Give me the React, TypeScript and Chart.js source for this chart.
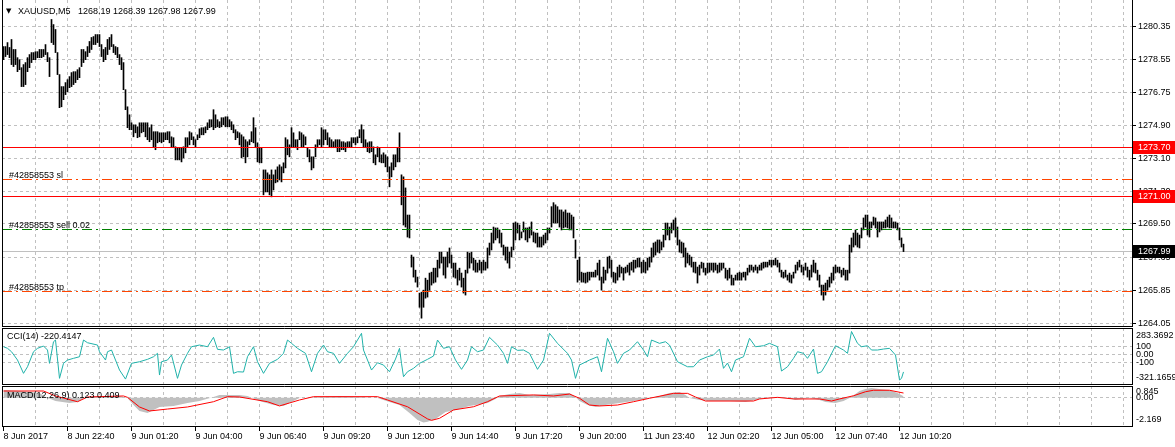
import React, { useEffect, useRef } from 'react';
import { Chart, registerables } from 'chart.js';

Chart.register(...registerables);

const FONT = "'Liberation Sans', 'DejaVu Sans', Arial, sans-serif";
const GRID = '#c0c0c0';
const CLEAR = 'rgba(0,0,0,0)';

// ---------- data ----------
const symbolTitle = 'XAUUSD,M5';
const lastOpen = 1268.19;
const lastClose = 1267.99;
const orderTicket = '42858553';
const orderLots = 0.02;

const timeLabels = [
  '8 Jun 2017', '8 Jun 22:40', '9 Jun 01:20', '9 Jun 04:00', '9 Jun 06:40',
  '9 Jun 09:20', '9 Jun 12:00', '9 Jun 14:40', '9 Jun 17:20', '9 Jun 20:00',
  '11 Jun 23:40', '12 Jun 02:20', '12 Jun 05:00', '12 Jun 07:40', '12 Jun 10:20',
];

const priceTicks = [1264.05, 1265.85, 1267.65, 1269.5, 1271.3, 1273.1, 1274.9, 1276.75, 1278.55, 1280.35];

const barHigh = [
  1279.25, 1279.25, 1279.47, 1279.20, 1279.64, 1279.09, 1279.09, 1278.64, 1278.53, 1278.09,
  1278.26, 1278.37, 1278.64, 1278.81, 1278.92, 1278.92, 1278.97, 1278.97, 1279.09, 1279.09,
  1279.09, 1279.36, 1278.92, 1278.64, 1280.74, 1280.46, 1280.19, 1278.92, 1277.71, 1277.05,
  1277.05, 1277.27, 1277.43, 1277.60, 1277.82, 1277.87, 1277.87, 1277.98, 1278.09, 1279.09,
  1279.09, 1278.97, 1279.25, 1279.53, 1279.75, 1279.80, 1279.91, 1279.91, 1279.91, 1279.36,
  1279.09, 1279.20, 1279.64, 1279.75, 1279.91, 1279.36, 1279.25, 1279.20, 1278.81, 1278.64,
  1278.37, 1276.88, 1275.94, 1275.50, 1275.06, 1274.95, 1274.95, 1274.84, 1275.06, 1275.06,
  1275.06, 1275.06, 1275.06, 1274.79, 1274.95, 1274.57, 1274.57, 1274.57, 1274.51, 1274.51,
  1274.51, 1274.51, 1274.57, 1274.57, 1274.29, 1274.24, 1273.74, 1273.69, 1273.69, 1273.69,
  1273.74, 1274.24, 1274.24, 1274.57, 1274.51, 1274.29, 1274.13, 1274.40, 1274.73, 1274.79,
  1274.79, 1274.84, 1275.06, 1275.23, 1275.23, 1275.78, 1275.50, 1275.23, 1275.12, 1275.34,
  1275.34, 1275.39, 1275.39, 1275.23, 1275.12, 1274.95, 1274.68, 1274.57, 1274.51, 1274.40,
  1274.29, 1274.13, 1274.02, 1274.13, 1274.57, 1275.34, 1274.79, 1273.96, 1273.69, 1273.69,
  1272.47, 1272.47, 1272.31, 1272.20, 1272.47, 1272.20, 1272.47, 1272.64, 1272.75, 1272.64,
  1272.86, 1274.24, 1274.13, 1273.85, 1274.79, 1274.51, 1274.13, 1274.13, 1274.57, 1274.51,
  1274.40, 1274.29, 1273.69, 1273.58, 1273.19, 1273.19, 1273.85, 1274.13, 1274.13, 1274.79,
  1274.68, 1274.68, 1274.51, 1274.24, 1274.13, 1274.02, 1274.13, 1274.13, 1274.13, 1274.02,
  1274.02, 1273.96, 1274.02, 1274.02, 1274.24, 1274.24, 1274.24, 1274.29, 1274.68, 1274.95,
  1274.68, 1274.13, 1273.96, 1274.02, 1274.02, 1273.74, 1273.30, 1273.74, 1273.69, 1273.30,
  1273.41, 1273.30, 1273.19, 1272.64, 1272.86, 1273.30, 1273.30, 1273.69, 1274.51, 1272.20,
  1272.09, 1271.48, 1269.99, 1269.99, 1267.79, 1267.68, 1266.96, 1266.58, 1265.70, 1265.75,
  1265.86, 1266.52, 1266.41, 1266.80, 1266.85, 1267.07, 1267.07, 1267.51, 1267.95, 1267.95,
  1267.68, 1267.68, 1267.95, 1268.18, 1267.79, 1267.35, 1267.35, 1266.96, 1267.07, 1266.80,
  1266.52, 1266.96, 1267.95, 1267.90, 1267.95, 1267.62, 1267.51, 1267.35, 1267.51, 1267.40,
  1267.51, 1267.40, 1268.18, 1268.45, 1269.00, 1269.33, 1269.28, 1269.28, 1269.17, 1269.00,
  1268.34, 1268.23, 1268.23, 1267.95, 1268.23, 1269.55, 1269.61, 1269.55, 1269.44, 1269.06,
  1269.61, 1269.28, 1269.28, 1269.33, 1269.61, 1269.06, 1269.00, 1269.00, 1268.78, 1268.78,
  1268.89, 1269.00, 1269.28, 1269.28, 1270.45, 1270.67, 1270.55, 1270.45, 1270.27, 1270.27,
  1270.16, 1270.27, 1270.10, 1270.10, 1269.99, 1269.88, 1268.62, 1267.51, 1267.68, 1266.85,
  1266.80, 1266.80, 1266.85, 1266.85, 1266.85, 1266.85, 1266.96, 1267.35, 1267.51, 1266.58,
  1267.13, 1266.96, 1267.68, 1267.73, 1267.51, 1266.85, 1266.80, 1267.13, 1267.24, 1267.13,
  1267.07, 1267.13, 1267.24, 1267.35, 1267.40, 1267.51, 1267.51, 1267.62, 1267.62, 1267.40,
  1267.51, 1267.40, 1267.62, 1267.68, 1268.18, 1268.45, 1268.51, 1268.62, 1268.62, 1268.51,
  1268.89, 1269.55, 1269.55, 1269.33, 1269.55, 1269.72, 1269.83, 1269.33, 1268.62, 1268.51,
  1268.45, 1268.18, 1267.90, 1267.79, 1267.68, 1267.40, 1267.40, 1267.13, 1267.24, 1267.40,
  1267.35, 1267.07, 1267.35, 1267.35, 1267.35, 1267.35, 1267.35, 1267.24, 1267.35, 1267.35,
  1267.35, 1267.07, 1266.96, 1267.07, 1266.69, 1266.52, 1266.69, 1266.80, 1266.85, 1266.80,
  1266.85, 1266.85, 1267.07, 1267.24, 1267.24, 1267.13, 1267.24, 1267.13, 1267.24, 1267.35,
  1267.40, 1267.40, 1267.40, 1267.51, 1267.51, 1267.51, 1267.62, 1267.51, 1267.35, 1266.96,
  1266.85, 1266.96, 1266.69, 1266.80, 1266.69, 1266.85, 1267.24, 1267.40, 1267.51, 1267.24,
  1267.13, 1267.35, 1267.13, 1266.96, 1267.24, 1267.51, 1267.35, 1266.96, 1266.69, 1266.14,
  1266.14, 1266.25, 1266.41, 1266.58, 1266.80, 1267.13, 1267.24, 1267.13, 1267.13, 1266.96,
  1267.07, 1266.96, 1266.96, 1268.34, 1268.73, 1269.00, 1269.17, 1269.00, 1268.89, 1269.28,
  1269.83, 1269.99, 1269.99, 1269.61, 1269.61, 1269.88, 1269.83, 1269.61, 1269.61, 1269.61,
  1269.61, 1269.72, 1269.88, 1269.99, 1269.83, 1269.61, 1269.61, 1269.55, 1269.28, 1268.73,
  1268.39,
];

const barLow = [
  1278.53, 1278.70, 1278.81, 1278.64, 1278.26, 1278.15, 1278.26, 1277.87, 1277.98, 1277.05,
  1277.05, 1277.16, 1277.87, 1278.09, 1278.37, 1278.53, 1278.53, 1278.64, 1278.64, 1278.64,
  1278.70, 1278.81, 1278.42, 1277.60, 1279.47, 1279.36, 1278.92, 1277.71, 1275.89, 1275.94,
  1276.33, 1276.61, 1276.77, 1276.99, 1277.05, 1277.16, 1277.27, 1277.43, 1277.54, 1278.15,
  1278.37, 1278.53, 1278.70, 1278.92, 1279.09, 1279.36, 1279.36, 1279.47, 1279.25, 1278.70,
  1278.42, 1278.53, 1278.81, 1279.09, 1279.25, 1278.92, 1278.81, 1278.64, 1278.26, 1277.98,
  1276.88, 1275.78, 1274.79, 1274.68, 1274.68, 1274.29, 1274.51, 1274.24, 1274.29, 1274.51,
  1274.57, 1274.29, 1274.13, 1274.02, 1274.13, 1273.74, 1273.58, 1273.96, 1274.02, 1273.96,
  1274.02, 1274.13, 1274.13, 1273.96, 1273.74, 1273.69, 1273.02, 1273.02, 1273.02, 1272.91,
  1273.13, 1273.41, 1273.74, 1273.85, 1274.13, 1273.85, 1273.74, 1274.13, 1274.24, 1274.40,
  1274.40, 1274.51, 1274.68, 1274.79, 1274.84, 1274.68, 1274.79, 1274.84, 1274.79, 1274.84,
  1274.95, 1274.84, 1274.84, 1274.84, 1274.68, 1274.51, 1274.13, 1274.24, 1273.85, 1273.13,
  1273.19, 1272.86, 1273.19, 1273.85, 1274.02, 1273.96, 1273.69, 1272.91, 1272.86, 1272.86,
  1271.10, 1271.26, 1271.26, 1271.10, 1270.99, 1271.37, 1271.76, 1271.81, 1271.92, 1271.81,
  1272.31, 1272.58, 1273.30, 1273.19, 1273.69, 1273.74, 1273.69, 1273.58, 1274.13, 1273.74,
  1273.74, 1273.85, 1273.19, 1272.91, 1272.47, 1272.58, 1273.19, 1273.69, 1273.85, 1273.74,
  1273.85, 1274.13, 1273.85, 1273.74, 1273.69, 1273.69, 1273.69, 1273.47, 1273.47, 1273.58,
  1273.58, 1273.47, 1273.69, 1273.74, 1273.74, 1273.96, 1273.85, 1273.96, 1274.24, 1273.96,
  1273.69, 1273.69, 1273.47, 1273.41, 1273.47, 1272.86, 1272.75, 1273.19, 1272.91, 1272.86,
  1272.86, 1272.64, 1272.36, 1271.54, 1272.09, 1272.47, 1272.64, 1272.91, 1272.91, 1270.55,
  1269.44, 1269.33, 1268.78, 1268.73, 1267.13, 1266.58, 1266.30, 1266.03, 1264.92, 1264.32,
  1264.92, 1265.42, 1265.48, 1265.86, 1266.14, 1266.25, 1266.30, 1266.58, 1267.07, 1267.35,
  1266.69, 1266.52, 1267.13, 1267.35, 1267.07, 1266.58, 1266.52, 1266.14, 1266.41, 1266.03,
  1265.70, 1265.59, 1266.80, 1267.07, 1267.35, 1266.96, 1266.85, 1266.85, 1266.96, 1266.80,
  1266.96, 1266.96, 1267.07, 1267.79, 1268.07, 1268.45, 1268.62, 1268.73, 1268.45, 1268.23,
  1267.79, 1267.51, 1267.35, 1267.07, 1267.68, 1268.07, 1268.62, 1269.00, 1268.62, 1268.73,
  1269.06, 1268.62, 1268.51, 1268.73, 1268.89, 1268.51, 1268.45, 1268.23, 1268.23, 1268.23,
  1268.34, 1268.45, 1268.62, 1269.00, 1269.33, 1269.55, 1269.55, 1269.55, 1269.33, 1269.17,
  1269.28, 1269.33, 1269.28, 1269.17, 1269.17, 1268.73, 1267.62, 1266.30, 1266.41, 1266.30,
  1266.30, 1266.25, 1266.30, 1266.41, 1266.58, 1266.58, 1266.58, 1266.69, 1266.41, 1265.86,
  1266.25, 1266.41, 1266.80, 1267.07, 1266.58, 1266.30, 1266.25, 1266.41, 1266.58, 1266.80,
  1266.41, 1266.80, 1266.85, 1266.69, 1266.96, 1266.85, 1267.07, 1267.13, 1267.13, 1266.80,
  1266.85, 1266.80, 1266.96, 1267.13, 1267.40, 1267.68, 1267.79, 1267.95, 1267.90, 1268.07,
  1268.23, 1268.62, 1268.89, 1268.62, 1269.00, 1269.17, 1268.78, 1268.34, 1267.95, 1267.90,
  1267.68, 1267.13, 1267.35, 1267.24, 1267.13, 1266.85, 1266.80, 1266.25, 1266.69, 1267.07,
  1266.85, 1266.69, 1266.80, 1266.85, 1266.96, 1266.85, 1266.96, 1266.80, 1266.85, 1266.96,
  1267.07, 1266.52, 1266.41, 1266.52, 1266.14, 1266.14, 1266.41, 1266.41, 1266.41, 1266.41,
  1266.58, 1266.41, 1266.69, 1266.85, 1266.96, 1266.85, 1266.96, 1266.80, 1266.96, 1266.96,
  1267.07, 1267.13, 1267.13, 1267.24, 1267.13, 1267.24, 1267.24, 1267.13, 1266.85, 1266.58,
  1266.52, 1266.58, 1266.41, 1266.30, 1266.25, 1266.52, 1266.80, 1266.96, 1267.13, 1266.85,
  1266.69, 1266.96, 1266.58, 1266.41, 1266.58, 1266.85, 1266.80, 1266.41, 1266.03, 1265.59,
  1265.31, 1265.59, 1265.86, 1266.03, 1266.25, 1266.41, 1266.80, 1266.85, 1266.80, 1266.58,
  1266.69, 1266.41, 1266.41, 1266.80, 1267.95, 1268.23, 1268.34, 1268.23, 1268.18, 1268.73,
  1269.17, 1269.33, 1268.89, 1268.78, 1269.28, 1269.44, 1269.28, 1268.78, 1269.06, 1269.17,
  1269.28, 1269.28, 1269.33, 1269.28, 1269.28, 1269.28, 1269.28, 1269.17, 1268.62, 1268.23,
  1267.98,
];

const alertLevels = [1273.7, 1271.0];
const slPrice = 1271.95;
const sellPrice = 1269.21;
const tpPrice = 1265.81;
const bidPrice = 1267.99;

const cciBars = [
  0, 2, 4, 7, 10, 12, 15, 17, 20, 22, 23, 25, 26, 28, 30, 32, 35, 38, 40, 42,
  47, 48, 51, 52, 54, 56, 58, 61, 64, 68, 72, 75, 77, 78, 79, 82, 84, 87, 89, 92,
  94, 98, 102, 105, 107, 110, 113, 115, 117, 120, 122, 125, 127, 130, 133, 137, 140, 142, 144, 147,
  151, 154, 157, 160, 162, 165, 168, 172, 175, 177, 179, 180, 182, 184, 187, 190, 193, 196, 198, 199,
  200, 202, 205, 208, 212, 215, 217, 220, 223, 226, 229, 232, 234, 237, 240, 243, 247, 250, 252, 254,
  257, 260, 263, 267, 270, 273, 277, 282, 284, 286, 288, 293, 297, 299, 302, 305, 307, 310, 313, 317,
  320, 322, 324, 328, 331, 333, 337, 342, 345, 348, 352, 355, 358, 360, 362, 364, 366, 370, 373, 376,
  380, 383, 387, 389, 392, 395, 397, 400, 402, 405, 407, 409, 412, 416, 420, 422, 424, 427, 429, 432,
  434, 437, 440, 443, 446, 448, 449, 450,
];
const cciValues = [
  93.5, 73.6, 31.2, -72.3, -238.2, -155.9, 31.2, 73.6, 102.3, 52.4, -113.5, 155.9, 177.1, -300.5, -113.5, -72.3, -51.1, -31.2, 177.1, 143.4,
  114.7, 31.2, -72.3, 31.2, 52.4, -72.3, -197.0, -310.0, -113.5, -93.5, -63.6, -31.2, 11.2, -259.4, -93.5, -72.3, -10.0, -300.5, -134.7, 11.2,
  93.5, 114.7, 93.5, 210.7, 61.1, 52.4, 93.5, -238.2, -218.2, -222.0, -31.2, 93.5, -93.5, -238.2, -113.5, -63.6, 11.2, 177.1, 135.9, 73.6,
  11.2, -218.2, 11.2, 114.7, 31.2, 11.2, -113.5, 11.2, 93.5, 177.1, 260.6, 52.4, -72.3, -197.0, -106.0, -134.7, -218.2, -60.0, 73.6, -113.5,
  -280.6, -218.2, -175.8, -113.5, -63.6, -22.4, 177.1, 73.6, 93.5, -72.3, -188.3, -72.3, 93.5, 31.2, 52.4, 210.7, 114.7, 11.2, -113.5, 93.5,
  48.6, 52.4, 11.2, -188.3, -72.3, 260.6, 135.9, 11.2, -72.3, -300.5, -134.7, -72.3, -31.2, -218.2, 198.3, 31.2, -113.5, 11.2, 52.4, 155.9,
  52.4, -31.2, 177.1, 135.9, 155.9, 114.7, -93.5, -155.9, -155.9, -72.3, -31.2, -10.0, 64.8, -175.8, -109.7, -218.2, -72.3, -31.2, 198.3, 93.5,
  106.0, 135.9, 93.5, -209.5, -155.9, -51.1, 31.2, 11.2, -51.1, 64.8, -238.2, -218.2, -93.5, 106.0, 52.4, 11.2, 283.3692, 135.9, 93.5, 106.0,
  52.4, 52.4, 64.8, 73.6, -10.0, -321.1659, -300.5, -220.4147,
];

const macdBars = [
  0, 8, 18, 21, 26, 33, 37, 41, 48, 58, 62, 65, 68, 72, 75, 78, 85, 92, 98, 105,
  108, 118, 122, 128, 135, 140, 145, 148, 158, 168, 178, 187, 193, 198, 203, 207, 210, 212, 216, 221,
  226, 233, 242, 246, 248, 253, 258, 263, 273, 278, 283, 286, 288, 292, 296, 301, 308, 315, 321, 328,
  333, 338, 341, 343, 348, 353, 363, 371, 376, 383, 391, 396, 403, 408, 411, 416, 420, 423, 426, 428,
  431, 434, 438, 443, 447, 450,
];
const macdValues = [
  0.67, 0.59, 0.41, 0.06, -0.29, -0.46, -0.38, 0.06, 0.15, 0.15, -0.03, -0.64, -1.16, -1.34, -1.07, -0.81, -0.72, -0.46, -0.29, 0.06,
  0.24, 0.24, 0.15, -0.29, -0.64, -0.72, -0.29, -0.03, 0.06, 0.15, 0.06, -0.03, -0.38, -0.64, -1.34, -1.95, -2.169, -2.10, -1.86, -1.25,
  -1.07, -0.72, -0.46, -0.11, 0.15, 0.32, 0.41, 0.24, 0.32, 0.41, 0.41, 0.06, -0.29, -0.64, -0.81, -0.64, -0.46, -0.29, -0.11, 0.15,
  0.41, 0.50, 0.24, -0.03, -0.20, -0.29, -0.29, -0.38, -0.20, 0.06, 0.06, -0.20, -0.03, -0.20, -0.38, -0.46, -0.29, -0.03, 0.32, 0.59,
  0.76, 0.845, 0.76, 0.67, 0.41, 0.123,
];

const signalBars = [
  0, 20, 26, 30, 37, 42, 60, 62, 68, 73, 82, 92, 105, 112, 118, 132, 138, 143, 148, 155,
  187, 192, 202, 212, 214, 218, 225, 235, 242, 248, 265, 275, 283, 288, 293, 298, 307, 315, 323, 335,
  342, 346, 351, 375, 378, 387, 395, 408, 414, 418, 425, 431, 435, 443, 450,
];
const signalValues = [
  0.585, 0.585, 0.15, -0.03, -0.35, 0.06, 0.15, 0.03, -0.81, -1.16, -0.99, -0.81, -0.35, 0.09, 0.06, -0.35, -0.72, -0.46, -0.20, 0.09,
  0.09, -0.20, -0.79, -1.85, -1.98, -1.80, -1.07, -0.79, -0.35, 0.15, 0.24, 0.15, 0.32, -0.05, -0.64, -0.72, -0.64, -0.35, -0.05, 0.38,
  0.38, 0.06, -0.29, -0.29, -0.11, 0.03, -0.11, -0.11, -0.29, -0.11, 0.17, 0.52, 0.65, 0.65, 0.409,
];

// ---------- helpers ----------
const X_MIN = -0.75;
const X_MAX = 564.25;
const font9 = { family: FONT, size: 9 };

function xAxis(withLabels: boolean, height: number) {
  return {
    type: 'linear',
    position: 'bottom',
    min: X_MIN,
    max: X_MAX,
    offset: false,
    afterBuildTicks: (s: any) => {
      const t: any[] = [];
      for (let v = withLabels ? 0 : 16; v <= 560; v += 16) t.push({ value: v });
      s.ticks = t;
    },
    afterFit: (s: any) => {
      s.height = height;
      s.paddingLeft = 0;
      s.paddingRight = 0;
    },
    grid: {
      offset: false,
      color: (c: any) => (c.tick && c.tick.value === 0 ? CLEAR : GRID),
      lineWidth: 1,
      drawTicks: withLabels,
      tickLength: 5,
      tickWidth: 1,
      tickColor: (c: any) =>
        c.tick && c.tick.value % 32 === 0 && c.tick.value / 32 < timeLabels.length ? '#000' : CLEAR,
    },
    border: { display: true, color: '#000', width: 1, dash: [3, 3] },
    ticks: {
      display: withLabels,
      autoSkip: false,
      maxRotation: 0,
      minRotation: 0,
      align: 'start',
      padding: 0,
      font: font9,
      color: '#000',
      callback: (v: any) => {
        const n = Number(v);
        if (n % 32 !== 0) return '';
        return timeLabels[n / 32] || '';
      },
    },
  };
}

function yAxisBase(min: number, max: number, ticks: number[], fmt: (v: number) => string, tickLen: number, tickColor: string, pad: number) {
  return {
    type: 'linear',
    position: 'right',
    min,
    max,
    afterBuildTicks: (s: any) => {
      s.ticks = ticks.map((v) => ({ value: v }));
    },
    afterFit: (s: any) => {
      s.width = 43;
      s.paddingTop = 0;
      s.paddingBottom = 0;
    },
    grid: { color: GRID, lineWidth: 1, drawTicks: true, tickLength: tickLen, tickColor, tickWidth: 1 },
    border: { display: true, color: '#000', width: 1, dash: [3, 3] },
    ticks: { autoSkip: false, font: font9, color: '#000', padding: pad, callback: (v: any) => fmt(Number(v)) },
  };
}

function baseOptions(scales: any) {
  return {
    animation: false,
    responsive: false,
    maintainAspectRatio: false,
    events: [],
    layout: { padding: { left: 2, right: 0, top: 0, bottom: 0 }, autoPadding: false },
    plugins: { legend: { display: false }, tooltip: { enabled: false }, title: { display: false } },
    scales,
  };
}

function hline(ctx: any, a: any, y: any, price: number, color: string, dash: number[]) {
  const py = Math.floor(y.getPixelForValue(price)) + 0.5;
  ctx.save();
  ctx.strokeStyle = color;
  ctx.lineWidth = 1;
  ctx.setLineDash(dash);
  ctx.beginPath();
  ctx.moveTo(a.left, py);
  ctx.lineTo(a.right, py);
  ctx.stroke();
  ctx.restore();
}

function frame(ctx: any, a: any, withTop: boolean) {
  ctx.save();
  ctx.strokeStyle = '#000';
  ctx.lineWidth = 1;
  ctx.setLineDash([]);
  ctx.beginPath();
  ctx.moveTo(a.left + 0.5, a.top);
  ctx.lineTo(a.left + 0.5, a.bottom + 1);
  if (withTop) {
    ctx.moveTo(a.left, a.top + 0.5);
    ctx.lineTo(a.right + 1, a.top + 0.5);
  }
  ctx.stroke();
  ctx.restore();
}

const DASH_DOT = [10, 4, 2, 4];

const mainOverlay = {
  id: 'mainOverlay',
  beforeDatasetsDraw(chart: any) {
    const { ctx, chartArea: a, scales } = chart;
    hline(ctx, a, scales.y, bidPrice, GRID, []);
  },
  afterDatasetsDraw(chart: any) {
    const { ctx, chartArea: a, scales } = chart;
    alertLevels.forEach((p) => hline(ctx, a, scales.y, p, '#ff0000', []));
    hline(ctx, a, scales.y, slPrice, '#ff4500', DASH_DOT);
    hline(ctx, a, scales.y, tpPrice, '#ff4500', DASH_DOT);
    hline(ctx, a, scales.y, sellPrice, '#008000', DASH_DOT);
  },
  afterDraw(chart: any) {
    const { ctx, chartArea: a, scales } = chart;
    const y = scales.y;
    frame(ctx, a, false);
    ctx.save();
    ctx.fillStyle = '#000';
    ctx.textAlign = 'left';
    ctx.textBaseline = 'alphabetic';
    ctx.font = `9px ${FONT}`;
    const last = barHigh.length - 1;
    ctx.fillText(
      `${symbolTitle}   ${lastOpen.toFixed(2)} ${barHigh[last].toFixed(2)} ${barLow[last].toFixed(2)} ${lastClose.toFixed(2)}`,
      18,
      14,
    );
    ctx.font = "7px 'DejaVu Sans', sans-serif";
    ctx.fillText('\u25BC', 6, 13);
    ctx.font = `9px ${FONT}`;
    const orderText: [number, string][] = [
      [slPrice, `#${orderTicket} sl`],
      [sellPrice, `#${orderTicket} sell ${orderLots.toFixed(2)}`],
      [tpPrice, `#${orderTicket} tp`],
    ];
    orderText.forEach(([p, t]) => {
      ctx.fillText(t, 9, Math.floor(y.getPixelForValue(p)) - 1.5);
    });
    const boxes: [number, string][] = [
      [alertLevels[0], '#ff0000'],
      [alertLevels[1], '#ff0000'],
      [bidPrice, '#000000'],
    ];
    boxes.forEach(([p, c]) => {
      const py = Math.floor(y.getPixelForValue(p)) + 0.5;
      ctx.fillStyle = c;
      ctx.fillRect(a.right + 1, py - 6.5, 43, 13);
      ctx.fillStyle = '#fff';
      ctx.textBaseline = 'middle';
      ctx.fillText(p.toFixed(2), 1138, py + 0.5);
    });
    ctx.restore();
  },
};

const cciOverlay = {
  id: 'cciOverlay',
  afterDraw(chart: any) {
    const { ctx, chartArea: a, scales } = chart;
    frame(ctx, a, true);
    const mx = Math.max(...cciValues);
    const mn = Math.min(...cciValues);
    ctx.save();
    ctx.fillStyle = '#000';
    ctx.font = `9px ${FONT}`;
    ctx.textAlign = 'left';
    ctx.textBaseline = 'alphabetic';
    ctx.fillText(`CCI(14) ${cciValues[cciValues.length - 1].toFixed(4)}`, 7, 11);
    ctx.textBaseline = 'middle';
    ctx.fillText(mx.toFixed(4), 1136, scales.y.getPixelForValue(mx) + 4.5);
    ctx.fillText(mn.toFixed(4), 1136, scales.y.getPixelForValue(mn) - 2.3);
    ctx.restore();
  },
};

const macdOverlay = {
  id: 'macdOverlay',
  afterDraw(chart: any) {
    const { ctx, chartArea: a, scales } = chart;
    frame(ctx, a, true);
    const mx = Math.max(...macdValues);
    const mn = Math.min(...macdValues);
    ctx.save();
    ctx.fillStyle = '#000';
    ctx.font = `9px ${FONT}`;
    ctx.textAlign = 'left';
    ctx.textBaseline = 'alphabetic';
    ctx.fillText(
      `MACD(12,26,9) ${macdValues[macdValues.length - 1].toFixed(3)} ${signalValues[signalValues.length - 1].toFixed(3)}`,
      7,
      11.5,
    );
    ctx.textBaseline = 'middle';
    ctx.fillText(mx.toFixed(3), 1136, scales.y.getPixelForValue(mx) + 3.7);
    ctx.fillText(mn.toFixed(3), 1136, scales.y.getPixelForValue(mn) - 3.5);
    ctx.restore();
  },
};

function mainConfig(): any {
  return {
    type: 'bar',
    data: {
      datasets: [
        {
          type: 'bar',
          data: barHigh.map((h, i) => ({ x: i, y: [barLow[i], h] })),
          backgroundColor: '#000000',
          borderWidth: 0,
          barThickness: 1,
          grouped: false,
        },
      ],
    },
    options: baseOptions({
      x: xAxis(false, 1),
      y: yAxisBase(1263.89, 1281.81, priceTicks, (v) => v.toFixed(2), 4, '#000', 2),
    }),
    plugins: [mainOverlay],
  };
}

function cciConfig(): any {
  return {
    type: 'line',
    data: {
      datasets: [
        {
          data: cciBars.map((b, k) => ({ x: b, y: cciValues[k] })),
          borderColor: '#20b2aa',
          borderWidth: 1,
          pointRadius: 0,
          pointHoverRadius: 0,
          tension: 0,
          fill: false,
        },
      ],
    },
    options: baseOptions({
      x: xAxis(false, 1),
      y: yAxisBase(-371, 327, [-100, 0, 100], (v) => (v === 0 ? '0.00' : String(v)), 2, CLEAR, 2),
    }),
    plugins: [cciOverlay],
  };
}

function macdConfig(): any {
  return {
    type: 'line',
    data: {
      datasets: [
        {
          data: macdBars.map((b, k) => ({ x: b, y: macdValues[k] })),
          borderColor: GRID,
          borderWidth: 0,
          backgroundColor: GRID,
          fill: 'origin',
          pointRadius: 0,
          pointHoverRadius: 0,
          tension: 0,
          order: 2,
        },
        {
          data: signalBars.map((b, k) => ({ x: b, y: signalValues[k] })),
          borderColor: '#ff0000',
          borderWidth: 1,
          pointRadius: 0,
          pointHoverRadius: 0,
          tension: 0,
          fill: false,
          order: 1,
        },
      ],
    },
    options: baseOptions({
      x: xAxis(true, 21),
      y: yAxisBase(-2.472, 1.022, [0], () => '0.00', 2, CLEAR, 2),
    }),
    plugins: [macdOverlay],
  };
}

function Pane({ top, height, make }: { top: number; height: number; make: () => any }) {
  const ref = useRef<HTMLCanvasElement | null>(null);
  useEffect(() => {
    if (!ref.current) return;
    const chart = new Chart(ref.current, make());
    return () => chart.destroy();
  }, []);
  return (
    <canvas
      ref={ref}
      width={1175}
      height={height}
      style={{ position: 'absolute', left: 0, top, width: 1175, height, display: 'block' }}
    />
  );
}

export default function App() {
  return (
    <div
      style={{
        position: 'fixed',
        left: 0,
        top: 0,
        width: 1175,
        height: 447,
        background: '#ffffff',
        overflow: 'hidden',
      }}
    >
      <Pane top={0} height={327} make={mainConfig} />
      <Pane top={328} height={57} make={cciConfig} />
      <Pane top={386} height={61} make={macdConfig} />
    </div>
  );
}
